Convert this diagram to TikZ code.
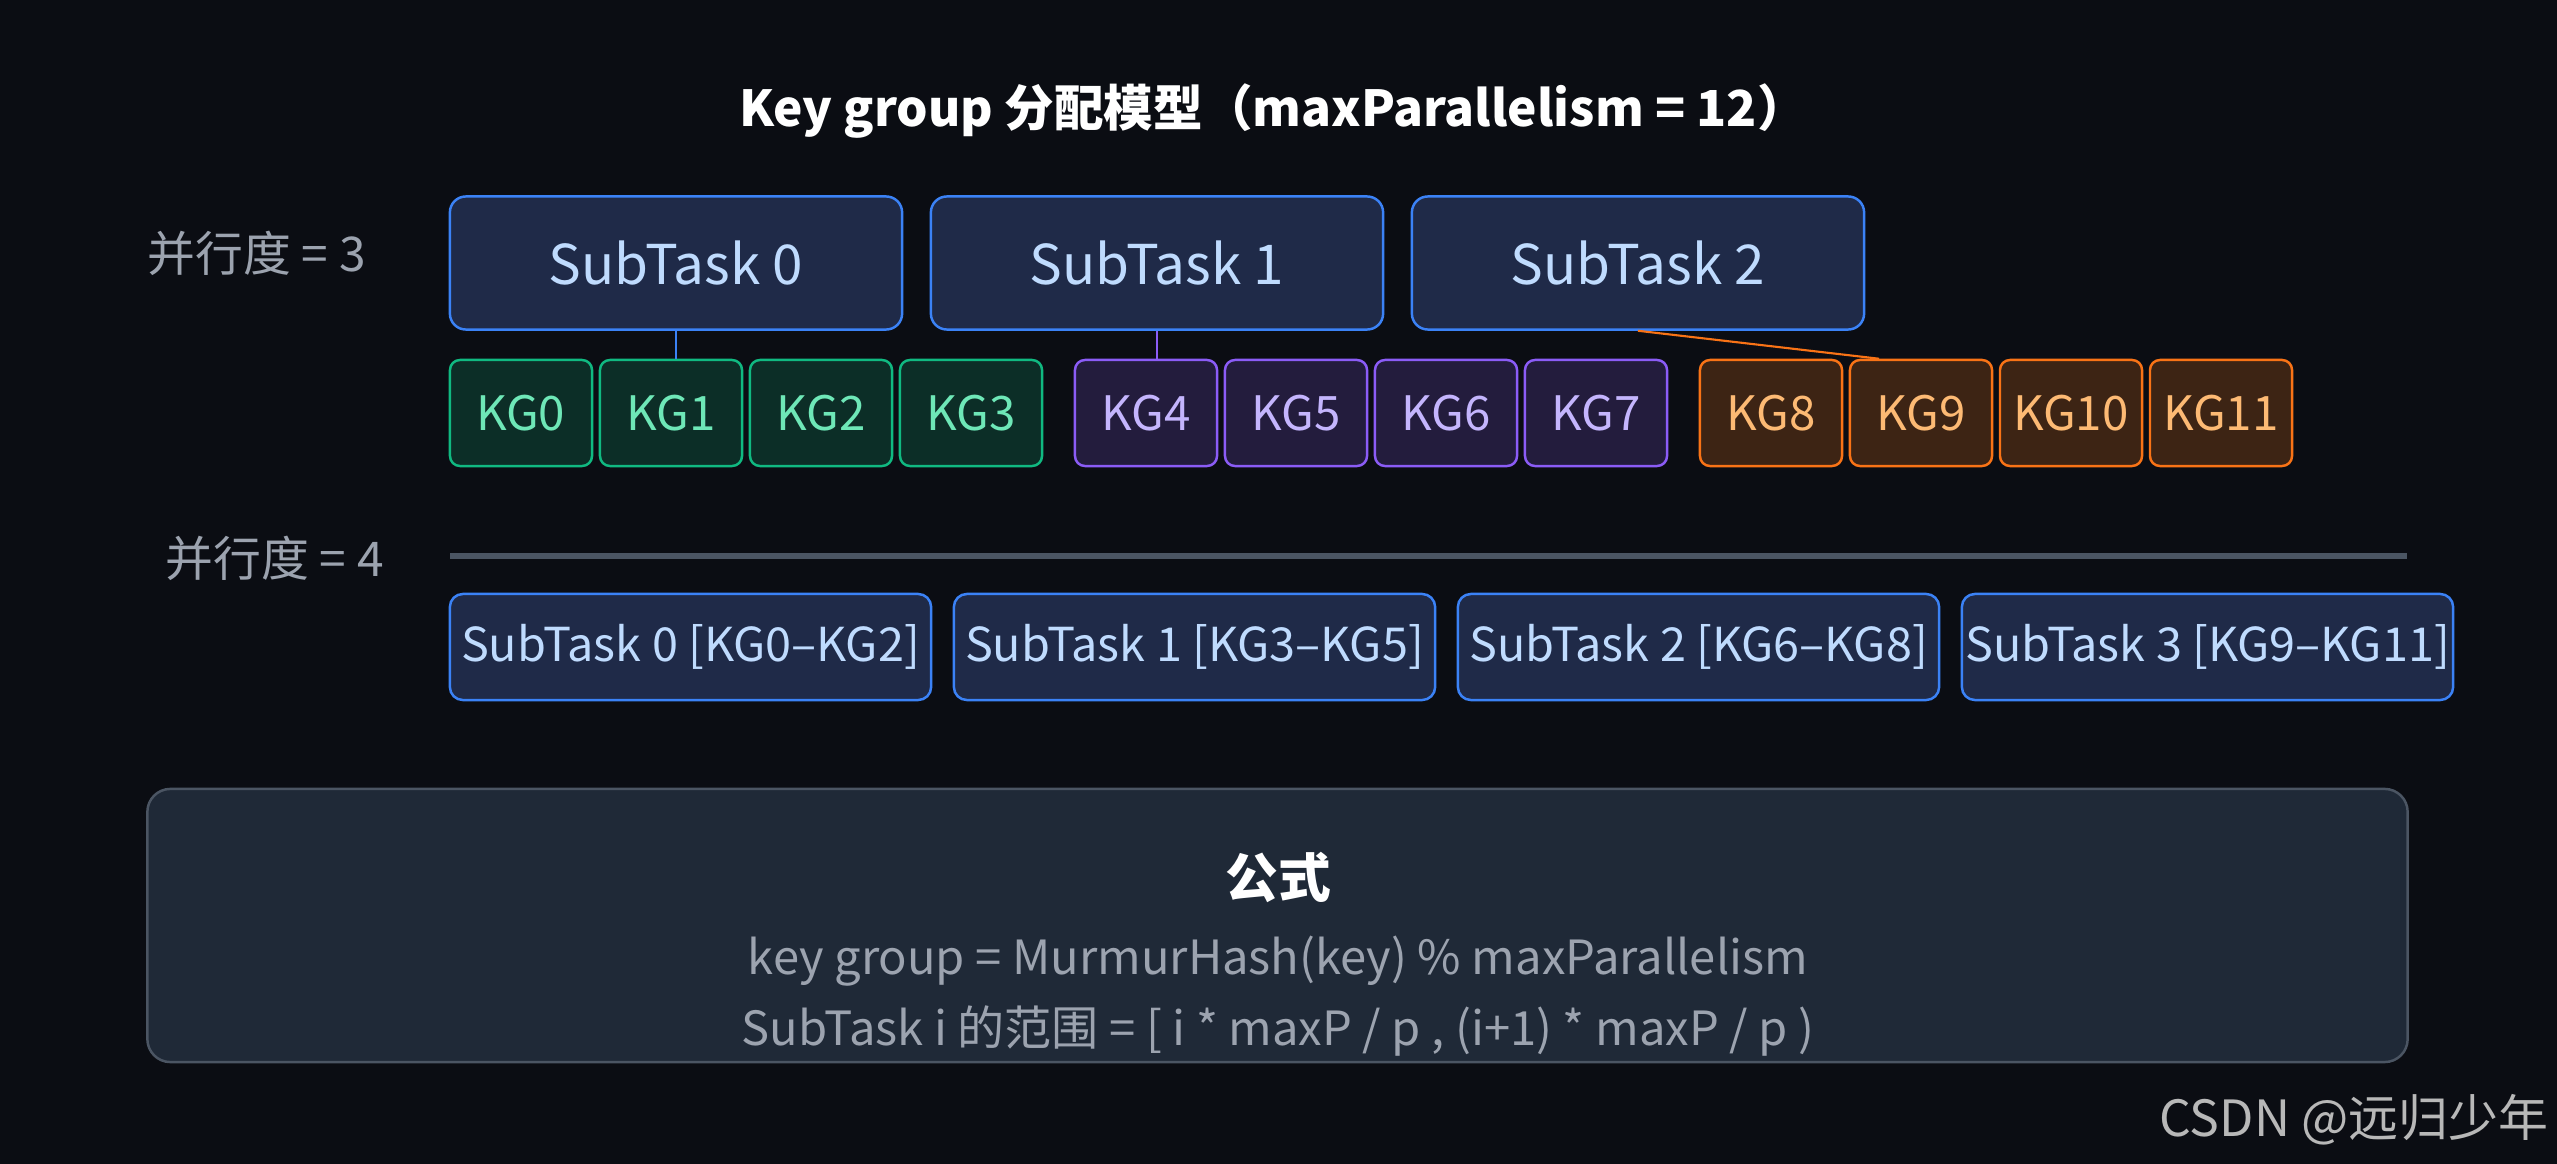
\documentclass[tikz,border=0pt]{standalone}
\usepackage{fontspec}
\setmainfont{Noto Sans CJK SC}
\usetikzlibrary{positioning, calc}

\definecolor{bgdark}{HTML}{0B0D13}
\definecolor{taskfill}{HTML}{1F2A48}
\definecolor{taskblue}{HTML}{3B82F6}
\definecolor{tasktext}{HTML}{BFDBFE}
\definecolor{greenfill}{HTML}{0C2E27}
\definecolor{greenline}{HTML}{10B981}
\definecolor{greentext}{HTML}{6EE7B7}
\definecolor{purplefill}{HTML}{231C3D}
\definecolor{purpleline}{HTML}{8B5CF6}
\definecolor{purpletext}{HTML}{C4B5FD}
\definecolor{orangefill}{HTML}{3D2414}
\definecolor{orangeline}{HTML}{F97316}
\definecolor{orangetext}{HTML}{FDBA74}
\definecolor{formfill}{HTML}{1F2937}
\definecolor{formline}{HTML}{4B5563}
\definecolor{softgray}{HTML}{9CA3AF}
\definecolor{markgray}{HTML}{B8B8B8}

\tikzset{
  subtask/.style={draw=taskblue, fill=taskfill, text=tasktext, rounded corners=0.16cm,
    line width=0.7pt, minimum width=4.52cm, minimum height=1.33cm, inner sep=0pt,
    font=\fontsize{15.6}{18}\selectfont},
  rangebox/.style={draw=taskblue, fill=taskfill, text=tasktext, rounded corners=0.13cm,
    line width=0.7pt, minimum height=1.06cm, inner sep=0pt,
    font=\fontsize{13.3}{16}\selectfont},
  kgbox/.style={rounded corners=0.1cm, line width=0.7pt, minimum width=1.42cm,
    minimum height=1.06cm, inner sep=0pt, font=\fontsize{13.5}{16}\selectfont},
  kggreen/.style={kgbox, draw=greenline, fill=greenfill, text=greentext},
  kgpurple/.style={kgbox, draw=purpleline, fill=purplefill, text=purpletext},
  kgorange/.style={kgbox, draw=orangeline, fill=orangefill, text=orangetext},
  level/.style={text=softgray, anchor=west, inner sep=0pt, font=\fontsize{13.6}{16}\selectfont},
  formtext/.style={text=softgray, inner sep=0pt, font=\fontsize{13.4}{16}\selectfont},
}

\begin{document}
\begin{tikzpicture}[x=0.01cm, y=-0.01cm]

    \fill[bgdark] (0,0) rectangle (2557,1164);

    \node[text=white, font=\fontsize{14.1}{17}\selectfont\bfseries] (title) at (1273,111)
        {Key group 分配模型（maxParallelism = 12）};

    % parallelism 3
    \node[level] (p3) at (147,253) {并行度 = 3};

    \foreach \i in {0,1,2}
        \node[subtask] (st\i) at ({676+481*\i},263) {SubTask \i};

    \foreach \g/\sty in {0/kggreen, 1/kgpurple, 2/kgorange}
        \foreach \j in {0,...,3} {
            \pgfmathtruncatemacro{\k}{4*\g+\j}
            \node[\sty] (kg\k) at ({521+625*\g+150*\j},413) {KG\k};
        }

    \draw[taskblue, line width=0.5pt] (st0.south) -- (st0.south |- kg1.north);
    \draw[purpleline, line width=0.5pt] (st1.south) -- (st1.south |- kg4.north);
    \draw[orangeline, line width=0.6pt] (st2.south) -- ($(kg9.north west)!0.21!(kg9.north east)$);

    % parallelism 4
    \node[level] (p4) at (165,558) {并行度 = 4};

    \coordinate (sepL) at (450,556);
    \coordinate (sepR) at (2407,556);
    \draw[formline, line width=1.8pt] (sepL) -- (sepR);

    \node[rangebox, minimum width=4.81cm] (rt0) at (690.5,647) {SubTask 0 [KG0–KG2]};
    \node[rangebox, minimum width=4.81cm] (rt1) at (1194.5,647) {SubTask 1 [KG3–KG5]};
    \node[rangebox, minimum width=4.81cm] (rt2) at (1698.5,647) {SubTask 2 [KG6–KG8]};
    \node[rangebox, minimum width=4.91cm] (rt3) at (2207.5,647) {SubTask 3 [KG9–KG11]};

    % formula
    \node[draw=formline, fill=formfill, rounded corners=0.23cm, line width=0.7pt,
          minimum width=22.59cm, minimum height=2.73cm] (formula) at (1277.5,925.5) {};
    \node[text=white, font=\fontsize{15}{18}\selectfont\bfseries] (fhead) at (1278,877) {公式};
    \node[formtext] (fline1) at (1278,961) {key group = MurmurHash(key) \% maxParallelism};
    \node[formtext] (fline2) at (1278,1031) {SubTask i 的范围 = [ i * maxP / p , (i+1) * maxP / p )};

    \node[text=markgray, anchor=east, inner sep=0pt, font=\fontsize{14.2}{17}\selectfont]
        (mark) at (2549,1120) {CSDN @远归少年};

\end{tikzpicture}
\end{document}
